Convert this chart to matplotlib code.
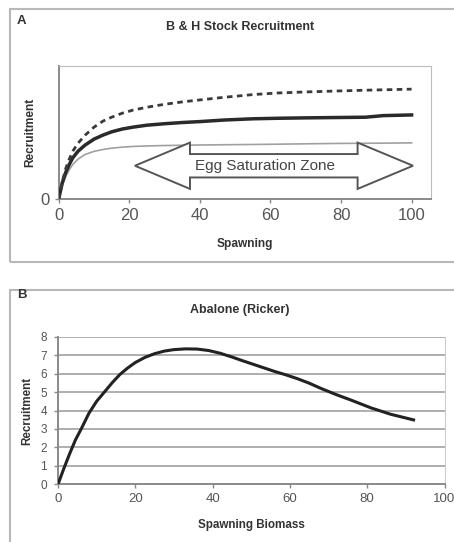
import matplotlib
matplotlib.use("Agg")
import matplotlib.pyplot as plt
from matplotlib.patches import Rectangle, Polygon

plt.rcParams['font.family'] = ['Liberation Sans', 'DejaVu Sans']

# ---- Panel A data (Beverton & Holt, normalised recruitment) ----
bh_spawning = [0, 1, 2, 3, 4, 5.5, 7.5, 10, 12.5, 15, 18, 21, 25, 30, 35, 40, 47, 55, 62, 70, 80, 87, 92, 100]
bh_high = [0, 0.13, 0.23, 0.30, 0.36, 0.42, 0.48, 0.54, 0.585, 0.615, 0.645, 0.668, 0.69, 0.712, 0.73, 0.745,
           0.765, 0.785, 0.797, 0.805, 0.813, 0.818, 0.821, 0.826]
bh_mid = [0, 0.12, 0.20, 0.26, 0.31, 0.36, 0.406, 0.45, 0.48, 0.505, 0.526, 0.54, 0.555, 0.566, 0.575, 0.582,
          0.594, 0.603, 0.607, 0.61, 0.613, 0.615, 0.627, 0.632]
bh_low = [0, 0.10, 0.17, 0.22, 0.26, 0.30, 0.335, 0.358, 0.372, 0.382, 0.39, 0.395, 0.399, 0.402, 0.404, 0.406,
          0.408, 0.41, 0.412, 0.415, 0.418, 0.419, 0.42, 0.422]
a_xticks = [0, 20, 40, 60, 80, 100]

# ---- Panel B data (Abalone, Ricker) ----
ricker_biomass = [0, 1.5, 3, 4.5, 6, 8, 10, 12, 14, 16, 18, 20, 22.5, 25, 27.5, 30, 33, 36, 39, 42, 45, 48,
                  52, 56, 59, 62, 65, 68, 72, 76, 81, 86, 92]
ricker_recruit = [0, 0.85, 1.65, 2.4, 3.0, 3.85, 4.5, 5.0, 5.5, 5.95, 6.3, 6.6, 6.88, 7.08, 7.22, 7.3, 7.34,
                  7.33, 7.25, 7.1, 6.9, 6.68, 6.4, 6.12, 5.93, 5.72, 5.48, 5.2, 4.86, 4.55, 4.14, 3.8, 3.49]
b_xticks = [0, 20, 40, 60, 80, 100]
b_yticks = [0, 1, 2, 3, 4, 5, 6, 7, 8]

W, H = 454, 542
fig = plt.figure(figsize=(W / 100, H / 100), dpi=100)
fig.patch.set_facecolor('white')


def fx(px):
    return px / W


def fy(py):
    return 1 - py / H


# outer panel boxes
fig.add_artist(Rectangle((fx(10), fy(262)), fx(460) - fx(10), fy(9) - fy(262),
                         transform=fig.transFigure, fill=False, edgecolor='#b8b8b8', lw=1.5))
fig.add_artist(Rectangle((fx(10), fy(548)), fx(460) - fx(10), fy(290) - fy(548),
                         transform=fig.transFigure, fill=False, edgecolor='#b8b8b8', lw=1.5))

tick_col = '#555555'
lab_col = '#333333'

# ---------------- Panel A ----------------
axA = fig.add_axes([fx(58.7), fy(199), fx(431) - fx(58.7), fy(66) - fy(199)])
axA.plot(bh_spawning, bh_low, color='#a0a0a0', lw=1.2, zorder=2)
axA.plot(bh_spawning, bh_mid, color='#2a2a2a', lw=2.5, zorder=3)
axA.plot(bh_spawning, bh_high, color='#3a3a3a', lw=2.0, ls=(0, (2.0, 1.6)), zorder=3)

# double-headed outline arrow (Egg Saturation Zone)
yc, hh, sh = 0.25, 0.174, 0.088
xl, xlb, xrb, xr = 21.6, 37.2, 84.7, 100.4
arrow_pts = [(xl, yc), (xlb, yc + hh), (xlb, yc + sh), (xrb, yc + sh), (xrb, yc + hh),
             (xr, yc), (xrb, yc - hh), (xrb, yc - sh), (xlb, yc - sh), (xlb, yc - hh)]
axA.add_patch(Polygon(arrow_pts, closed=True, facecolor='white', edgecolor='#555555',
                      lw=1.4, zorder=4))
axA.text(58.5, yc, 'Egg Saturation Zone', ha='center', va='center', fontsize=11,
         color='#444444', zorder=5)

axA.set_xlim(0, 105.5)
axA.set_ylim(0, 1)
axA.set_xticks(a_xticks)
axA.set_yticks([0])
axA.tick_params(axis='both', colors='#888888', labelcolor=tick_col, labelsize=12,
                length=3, width=1)
axA.spines['left'].set_color('#8a8a8a')
axA.spines['bottom'].set_color('#8a8a8a')
axA.spines['left'].set_linewidth(1.4)
axA.spines['bottom'].set_linewidth(1.4)
axA.spines['top'].set_color('#bdbdbd')
axA.spines['right'].set_color('#bdbdbd')
axA.set_xlabel('Spawning', fontsize=8.6, fontweight='bold', color=lab_col, labelpad=11)
axA.set_ylabel('Recruitment', fontsize=8.6, fontweight='bold', color=lab_col, labelpad=3)
fig.text(fx(240), fy(27), 'B & H Stock Recruitment', ha='center', va='center',
         fontsize=9, fontweight='bold', color=lab_col)
fig.text(fx(21), fy(21), 'A', ha='center', va='center', fontsize=9.5, fontweight='bold',
         color=lab_col)

# ---------------- Panel B ----------------
axB = fig.add_axes([fx(58), fy(484.3), fx(444.5) - fx(58), fy(336.7) - fy(484.3)])
axB.plot(ricker_biomass, ricker_recruit, color='#222222', lw=2.2, zorder=3)
axB.set_xlim(0, 100)
axB.set_ylim(0, 8)
axB.set_xticks(b_xticks)
axB.set_yticks(b_yticks)
axB.yaxis.grid(True, color='#a8a8a8', lw=1.3)
axB.set_axisbelow(True)
axB.tick_params(axis='x', colors='#888888', labelcolor=tick_col, labelsize=9.5,
                length=3, width=1)
axB.tick_params(axis='y', colors='#888888', labelcolor=tick_col, labelsize=8.5,
                length=3, width=1, pad=5)
axB.spines['left'].set_color('#8a8a8a')
axB.spines['bottom'].set_color('#8a8a8a')
axB.spines['left'].set_linewidth(1.4)
axB.spines['bottom'].set_linewidth(1.4)
axB.spines['top'].set_visible(False)
axB.spines['right'].set_color('#cccccc')
axB.set_xlabel('Spawning Biomass', fontsize=8.4, fontweight='bold', color=lab_col, labelpad=10)
axB.set_ylabel('Recruitment', fontsize=8.4, fontweight='bold', color=lab_col, labelpad=5)
fig.text(fx(240), fy(310), 'Abalone (Ricker)', ha='center', va='center',
         fontsize=9, fontweight='bold', color=lab_col)
fig.text(fx(22), fy(295), 'B', ha='center', va='center', fontsize=9.5, fontweight='bold',
         color=lab_col)

fig.savefig('out.png', dpi=100, facecolor='white')
